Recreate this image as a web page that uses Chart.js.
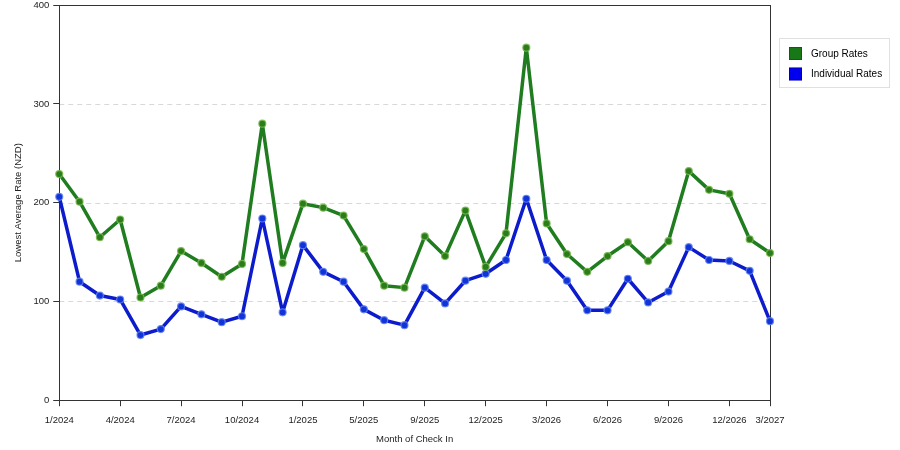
<!DOCTYPE html>
<html><head><meta charset="utf-8">
<script src="https://cdn.jsdelivr.net/npm/chart.js@4"></script>
<style>html,body{margin:0;padding:0;background:#fff;}#wrap{width:900px;height:450px;}</style>
</head><body><div id="wrap"><canvas id="c" width="900" height="450"></canvas></div>
<script>
const months = ["1/2024","2/2024","3/2024","4/2024","5/2024","6/2024","7/2024","8/2024","9/2024","10/2024","11/2024","12/2024",
"1/2025","2/2025","4/2025","5/2025","6/2025","7/2025","9/2025","10/2025","11/2025","12/2025",
"1/2026","2/2026","3/2026","4/2026","5/2026","6/2026","7/2026","8/2026","9/2026","10/2026","11/2026","12/2026","1/2027","3/2027"];
const groupRates = [229,201,165,183,104,116,151,139,125,138,280,139,
199,195,187,153,116,114,166,146,192,135,169,357,179,148,130,146,160,141,161,232,213,209,163,149];
const individualRates = [206,120,106,102,66,72,95,87,79,85,184,89,
157,130,120,92,81,76,114,98,121,128,142,204,142,121,91,91,123,99,110,155,142,141,131,80];
const yTicks = [0,100,200,300,400];

const FONT = "'Liberation Sans', Arial, sans-serif";

const frame = {
  id:'frame',
  beforeDatasetsDraw(chart){
    const {ctx, chartArea:a, scales:{y}} = chart;
    ctx.save();
    ctx.strokeStyle = '#d8d8d8'; ctx.lineWidth = 1; ctx.setLineDash([5,4]);
    yTicks.forEach(v=>{ if(v===0||v===400) return; const py=Math.round(y.getPixelForValue(v))+0.5;
      ctx.beginPath(); ctx.moveTo(a.left,py); ctx.lineTo(a.right,py); ctx.stroke(); });
    ctx.setLineDash([]);
    ctx.strokeStyle = '#333'; ctx.lineWidth = 1;
    ctx.strokeRect(Math.round(a.left)+0.5, Math.round(a.top)+0.5, Math.round(a.right-a.left), Math.round(a.bottom-a.top));
    ctx.restore();
  },
  afterDraw(chart){
    const ctx = chart.ctx;
    ctx.save();
    ctx.strokeStyle = '#e0e0e0'; ctx.lineWidth = 1;
    ctx.strokeRect(779.5, 38.5, 110, 49);
    ctx.font = "10px " + FONT; ctx.textBaseline = 'middle'; ctx.fillStyle = '#000';
    chart.data.datasets.forEach((ds,i)=>{
      const yy = 47 + i*20.5;
      ctx.fillStyle = ds.legendColor; ctx.fillRect(789, yy, 13, 13);
      ctx.strokeStyle = 'rgba(0,0,0,0.25)'; ctx.strokeRect(789.5, yy+0.5, 12, 12);
      ctx.fillStyle = '#000'; ctx.fillText(ds.label, 811, yy+7);
    });
    ctx.restore();
  }
};

new Chart(document.getElementById('c'), {
  type:'line',
  data:{ labels: months, datasets:[
    {label:'Group Rates', data: groupRates, borderColor:'#1f7d1f', backgroundColor:'#1f7d1f', legendColor:'#187818',
     borderWidth:3.5, borderJoinStyle:'round', borderCapStyle:'round', pointRadius:3.5, pointBackgroundColor:'#2b7d1b', pointBorderColor:'rgba(120,185,80,0.85)', pointBorderWidth:1.2, tension:0},
    {label:'Individual Rates', data: individualRates, borderColor:'#0c1ccc', backgroundColor:'#0c1ccc', legendColor:'#0000ee',
     borderWidth:3.5, borderJoinStyle:'round', borderCapStyle:'round', pointRadius:3.5, pointBackgroundColor:'#1034d8', pointBorderColor:'rgba(100,130,240,0.85)', pointBorderWidth:1.2, tension:0}
  ]},
  options:{
    responsive:false, animation:false, devicePixelRatio:1,
    layout:{padding:{left:9, right:130, top:5, bottom:1}},
    plugins:{legend:{display:false}, tooltip:{enabled:false}},
    scales:{
      x:{type:'category', offset:false,
        grid:{display:true, drawOnChartArea:false, drawTicks:true, tickLength:6, color:'#333'},
        border:{display:true, color:'#333'},
        ticks:{autoSkip:false, maxRotation:0, color:'#222', font:{family:FONT, size:9.5}, padding:8,
          callback:function(v,i){ return (i%3===0 || i===months.length-1) ? months[i] : null; }},
        title:{display:true, text:'Month of Check In', color:'#222', font:{family:FONT, size:9.5}, padding:{top:0}}
      },
      y:{min:0, max:400,
        afterBuildTicks:(s)=>{ s.ticks = yTicks.map(v=>({value:v})); },
        afterFit:(s)=>{ s.paddingTop = 0; s.paddingBottom = 0; },
        grid:{display:true, drawOnChartArea:false, drawTicks:true, tickLength:6, color:'#333'},
        border:{display:true, color:'#333'},
        ticks:{color:'#222', font:{family:FONT, size:9.5}, padding:4},
        title:{display:true, text:'Lowest Average Rate (NZD)', color:'#222', font:{family:FONT, size:9.5}, padding:{bottom:5}}
      }
    }
  },
  plugins:[frame]
});
</script></body></html>
